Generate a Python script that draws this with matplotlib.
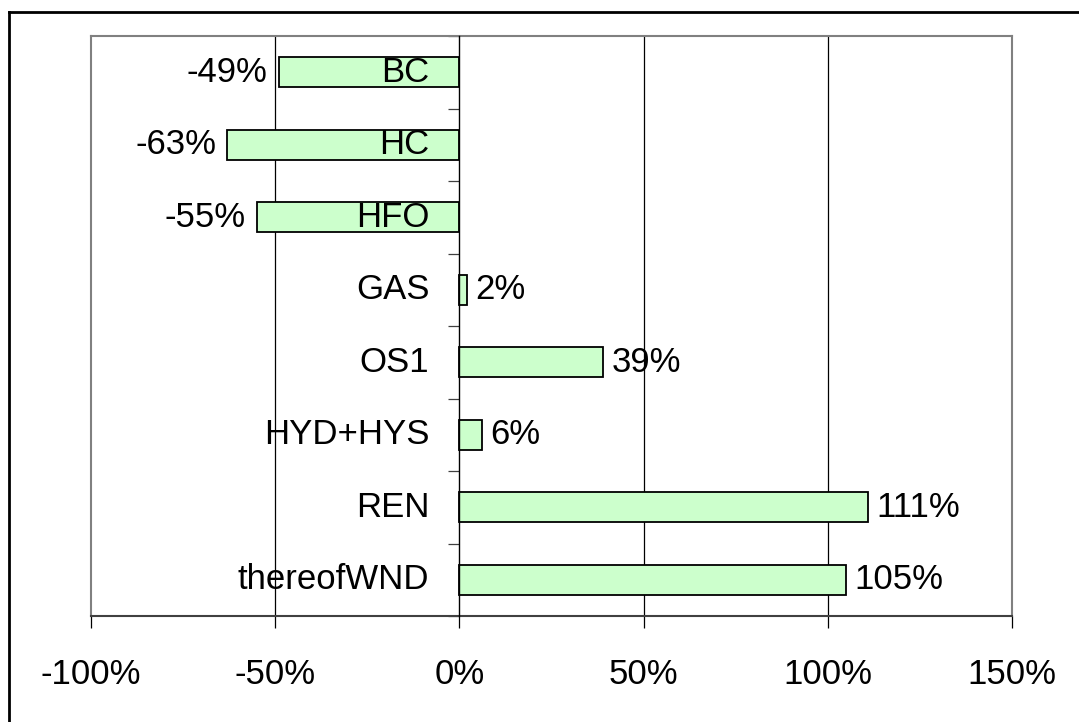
import matplotlib
matplotlib.use("Agg")
import matplotlib.pyplot as plt
from matplotlib.lines import Line2D
from matplotlib.ticker import FixedLocator

categories = ["BC", "HC", "HFO", "GAS", "OS1", "HYD+HYS", "REN", "thereofWND"]
values = [-49, -63, -55, 2, 39, 6, 111, 105]
xticks = [-100, -50, 0, 50, 100, 150]
xticklabels = ["-100%", "-50%", "0%", "50%", "100%", "150%"]

plt.rcParams['font.family'] = ['Liberation Sans', 'DejaVu Sans']
FS = 25

W, H = 1079, 722
fig = plt.figure(figsize=(W / 100, H / 100), dpi=100)
ax = fig.add_axes([91 / W, 1 - 616 / H, (1012 - 91) / W, (616 - 36) / H])

ypos = list(range(len(categories)))
ax.barh(ypos, values, height=0.41, color="#CCFFCC", edgecolor="black", linewidth=1.3, zorder=3)

ax.set_xlim(-100, 150)
ax.set_ylim(len(categories) - 0.5, -0.5)

# vertical gridlines
for g in [-50, 50, 100]:
    ax.axvline(g, color="black", linewidth=0.9, zorder=1)

# frame
for s in ["top", "right"]:
    ax.spines[s].set_color("#808080")
    ax.spines[s].set_linewidth(1.5)
ax.spines["bottom"].set_color("#404040")
ax.spines["bottom"].set_linewidth(1.5)
ax.spines["left"].set_position(("data", 0))
ax.spines["left"].set_color("black")
ax.spines["left"].set_linewidth(1.0)
ax.spines["left"].set_zorder(4)
ax.add_line(Line2D([0, 0], [0, 1], transform=ax.transAxes, color="#808080", linewidth=1.5, clip_on=False))

# x axis
ax.set_xticks(xticks)
ax.set_xticklabels(xticklabels, fontsize=FS)
ax.tick_params(axis="x", direction="out", length=8.6, width=0.9, color="black", pad=22)

# y axis: no major labels from axis; ticks at category boundaries
ax.set_yticks(ypos)
ax.set_yticklabels([])
ax.tick_params(axis="y", which="major", length=0)
ax.yaxis.set_minor_locator(FixedLocator([i - 0.5 for i in range(len(categories) + 1)]))
ax.tick_params(axis="y", which="minor", direction="out", length=8, width=0.9, color="#404040")

# category labels next to the zero axis, drawn above bars
for y, c in zip(ypos, categories):
    ax.annotate(c, xy=(0, y), xytext=(-21.6, 0), textcoords="offset points",
                ha="right", va="center", fontsize=FS, zorder=6)

# value labels
for y, v in zip(ypos, values):
    if v < 0:
        ax.annotate(f"{v}%", xy=(v, y), xytext=(-8, 0), textcoords="offset points",
                    ha="right", va="center", fontsize=FS, zorder=6)
    else:
        ax.annotate(f"{v}%", xy=(v, y), xytext=(6, 0), textcoords="offset points",
                    ha="left", va="center", fontsize=FS, zorder=6)

# figure border (left and top visible)
fig.add_artist(Line2D([9 / W, 9 / W], [0, 1 - 12 / H], transform=fig.transFigure, color="black", linewidth=2))
fig.add_artist(Line2D([9 / W, 1], [1 - 12 / H, 1 - 12 / H], transform=fig.transFigure, color="black", linewidth=2))

fig.savefig("out.png", dpi=100)
